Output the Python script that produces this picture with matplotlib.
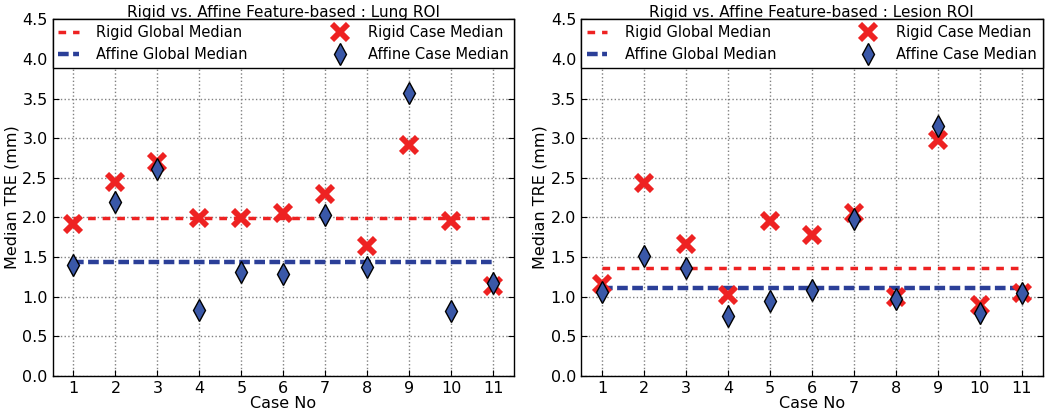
import numpy as np
import matplotlib
matplotlib.use("Agg")
import matplotlib.pyplot as plt

cases = list(range(1, 12))

# Lung ROI
lung_rigid = [1.92, 2.45, 2.70, 1.99, 1.99, 2.05, 2.30, 1.64, 2.91, 1.96, 1.14]
lung_affine = [1.40, 2.20, 2.61, 0.83, 1.31, 1.29, 2.03, 1.38, 3.57, 0.82, 1.17]
lung_rigid_global = 1.99
lung_affine_global = 1.44

# Lesion ROI
lesion_rigid = [1.16, 2.43, 1.67, 1.02, 1.96, 1.78, 2.06, 1.00, 2.98, 0.90, 1.05]
lesion_affine = [1.06, 1.51, 1.36, 0.76, 0.94, 1.08, 1.98, 0.97, 3.15, 0.79, 1.04]
lesion_rigid_global = 1.36
lesion_affine_global = 1.11

titles = ["Rigid vs. Affine Feature-based : Lung ROI",
          "Rigid vs. Affine Feature-based : Lesion ROI"]

RED = "#ee2222"
BLUE = "#3a58a8"
BLUE_LINE = "#2b3f98"

fig, axes = plt.subplots(1, 2, figsize=(10.5, 4.13), dpi=100)
plt.subplots_adjust(left=0.05, right=0.993, top=0.953, bottom=0.09, wspace=0.145)

panels = [(lung_rigid, lung_affine, lung_rigid_global, lung_affine_global),
          (lesion_rigid, lesion_affine, lesion_rigid_global, lesion_affine_global)]

for ax, (rig, aff, rg, ag), t in zip(axes, panels, titles):
    ax.plot([cases[0], cases[-1]], [rg, rg], ls=(0, (2.2, 2.0)), lw=2.5, color=RED,
            label="Rigid Global Median")
    ax.plot([cases[0], cases[-1]], [ag, ag], ls=(0, (2.4, 1.0)), lw=3.2, color=BLUE_LINE,
            label="Affine Global Median")
    ax.plot(cases, rig, ls="none", marker="x", ms=11.5, mew=4.2, color=RED,
            label="Rigid Case Median")
    ax.plot(cases, aff, ls="none", marker="d", ms=11, mfc=BLUE, mec="black", mew=1,
            label="Affine Case Median")
    ax.set_xlim(0.5, 11.5)
    ax.set_ylim(0, 4.5)
    ax.set_xticks(cases)
    ax.set_yticks(np.arange(0, 4.6, 0.5))
    ax.set_yticklabels([f"{v:.1f}" for v in np.arange(0, 4.6, 0.5)])
    ax.tick_params(labelsize=11.5, direction="in", length=4, top=True, right=True)
    ax.grid(True, ls=":", color="0.5", lw=1)
    ax.set_axisbelow(True)
    ax.set_title(t, fontsize=11, pad=2)
    ax.set_xlabel("Case No", fontsize=11.5, labelpad=0)
    ax.set_ylabel("Median TRE (mm)", fontsize=11.5, labelpad=2)
    leg = ax.legend(ncol=2, loc="upper left", bbox_to_anchor=(0, 1, 1, 0), mode="expand",
                    borderaxespad=0, fontsize=10.5, fancybox=False, edgecolor="black",
                    framealpha=1, handlelength=1.4, handletextpad=1.2, borderpad=0.4,
                    labelspacing=0.45, numpoints=1)
    leg.get_frame().set_linewidth(1)
    for s in ax.spines.values():
        s.set_linewidth(1)

fig.savefig("out.png", dpi=100)
